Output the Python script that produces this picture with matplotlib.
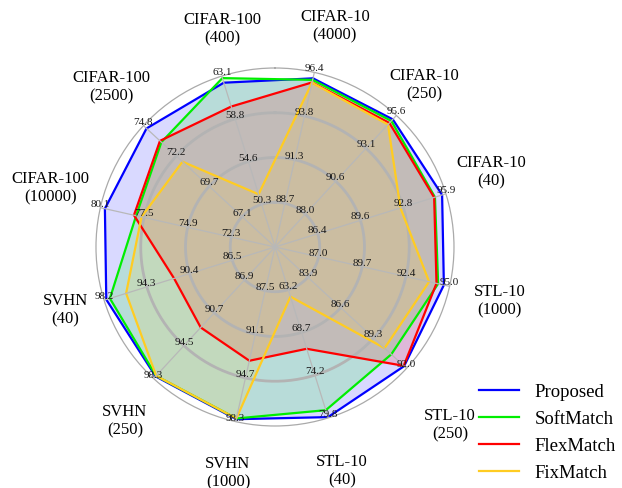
import numpy as np
import matplotlib.pyplot as plt
from matplotlib.lines import Line2D

plt.rcParams['font.family'] = ['Liberation Serif', 'DejaVu Serif']

# Axes (clockwise from the top)
categories = ['CIFAR-10\n(4000)', 'CIFAR-10\n(250)', 'CIFAR-10\n(40)',
              'STL-10\n(1000)', 'STL-10\n(250)', 'STL-10\n(40)',
              'SVHN\n(1000)', 'SVHN\n(250)', 'SVHN\n(40)',
              'CIFAR-100\n(10000)', 'CIFAR-100\n(2500)', 'CIFAR-100\n(400)']

# Tick labels of each axis (inner -> outer ring)
axis_ticks = [
    [88.7, 91.3, 93.8, 96.4],
    [88.0, 90.6, 93.1, 95.6],
    [86.4, 89.6, 92.8, 95.9],
    [87.0, 89.7, 92.4, 95.0],
    [83.9, 86.6, 89.3, 92.0],
    [63.2, 68.7, 74.2, 79.8],
    [87.5, 91.1, 94.7, 98.3],
    [86.9, 90.7, 94.5, 98.3],
    [86.5, 90.4, 94.3, 98.2],
    [72.3, 74.9, 77.5, 80.1],
    [67.1, 69.7, 72.2, 74.8],
    [50.3, 54.6, 58.8, 63.1],
]

# Accuracy (%) per method
proposed  = [96.05, 95.30, 95.62, 94.65, 91.80, 79.70, 98.10, 98.05, 98.00, 79.83, 74.56, 62.44]
softmatch = [95.96, 95.18, 95.09, 94.30, 90.75, 78.80, 98.04, 97.99, 97.67, 77.97, 73.40, 62.90]
flexmatch = [95.81, 95.02, 95.03, 94.20, 91.77, 70.85, 93.28, 92.40, 91.81, 78.10, 73.51, 60.06]
fixmatch  = [95.79, 94.90, 92.53, 93.75, 90.20, 64.10, 98.04, 97.98, 96.19, 77.65, 71.75, 51.30]

methods = ['Proposed', 'SoftMatch', 'FlexMatch', 'FixMatch']
colors = ['#0000ff', '#00ee00', '#ff0000', '#ffcc22']
series = [proposed, softmatch, flexmatch, fixmatch]

# label placement (degrees clockwise from top, radius in axis units)
label_deg = [15.1, 42.4, 70.8, 103.3, 135.3, 163.3, 191.8, 220.9, 253.5, 285.0, 314.6, 346.4]
label_rad = [1.285, 1.235, 1.28, 1.29, 1.39, 1.30, 1.285, 1.28, 1.22, 1.30, 1.28, 1.257]

n = len(categories)
start = 12.7
angles = np.radians(start + 360.0 / n * np.arange(n))
levels = np.array([0.25, 0.5, 0.75, 1.0])


def to_radius(vals):
    out = []
    for v, t in zip(vals, axis_ticks):
        lo, hi = t[0], t[-1]
        out.append(0.25 + 0.75 * (v - lo) / (hi - lo))
    return np.array(out)


fig = plt.figure(figsize=(6.22, 4.89), dpi=100)
ax = fig.add_axes([0.1543, 0.1268, 0.5756, 0.7321], projection='polar')
ax.set_theta_offset(np.pi / 2)
ax.set_theta_direction(-1)
ax.set_ylim(0, 1)

# grid
ax.set_xticks(angles)
ax.set_xticklabels([])
ax.set_yticks([])
ax.xaxis.grid(True, color='#b8b8b8', lw=0.9, zorder=1.5)
ax.set_axisbelow(False)
full = np.linspace(0, 2 * np.pi, 400)
for lv in levels[:-1]:
    ax.plot(full, np.full_like(full, lv), color='#b3b3b3', lw=2.0, zorder=1.5)
ax.spines['polar'].set_color('#aaaaaa')
ax.spines['polar'].set_linewidth(0.9)

closed = np.append(angles, angles[0])
for name, vals, c in zip(methods, series, colors):
    r = to_radius(vals)
    r = np.append(r, r[0])
    ax.fill(closed, r, color=c, alpha=0.15, lw=0, zorder=1)
    ax.plot(closed, r, color=c, lw=1.6, label=name, zorder=2)

# tick values along each axis
for a, t in zip(angles, axis_ticks):
    for lv, val in zip(levels, t):
        ax.text(a, lv, f'{val:.1f}', ha='center', va='bottom', fontsize=8,
                color='#1a1a1a', zorder=5)

for lab, d, rr in zip(categories, label_deg, label_rad):
    ax.text(np.radians(d), rr, lab, ha='center', va='center', fontsize=12,
            clip_on=False)

handles = [Line2D([0], [0], color=c, lw=1.6) for c in colors]
fig.legend(handles, methods, loc='upper left', bbox_to_anchor=(479 / 622, 1 - 384 / 489),
           frameon=False, fontsize=13.5, handlelength=2.15, handletextpad=0.8,
           labelspacing=0.53, borderpad=0, borderaxespad=0)

fig.savefig('out.png', dpi=100)
